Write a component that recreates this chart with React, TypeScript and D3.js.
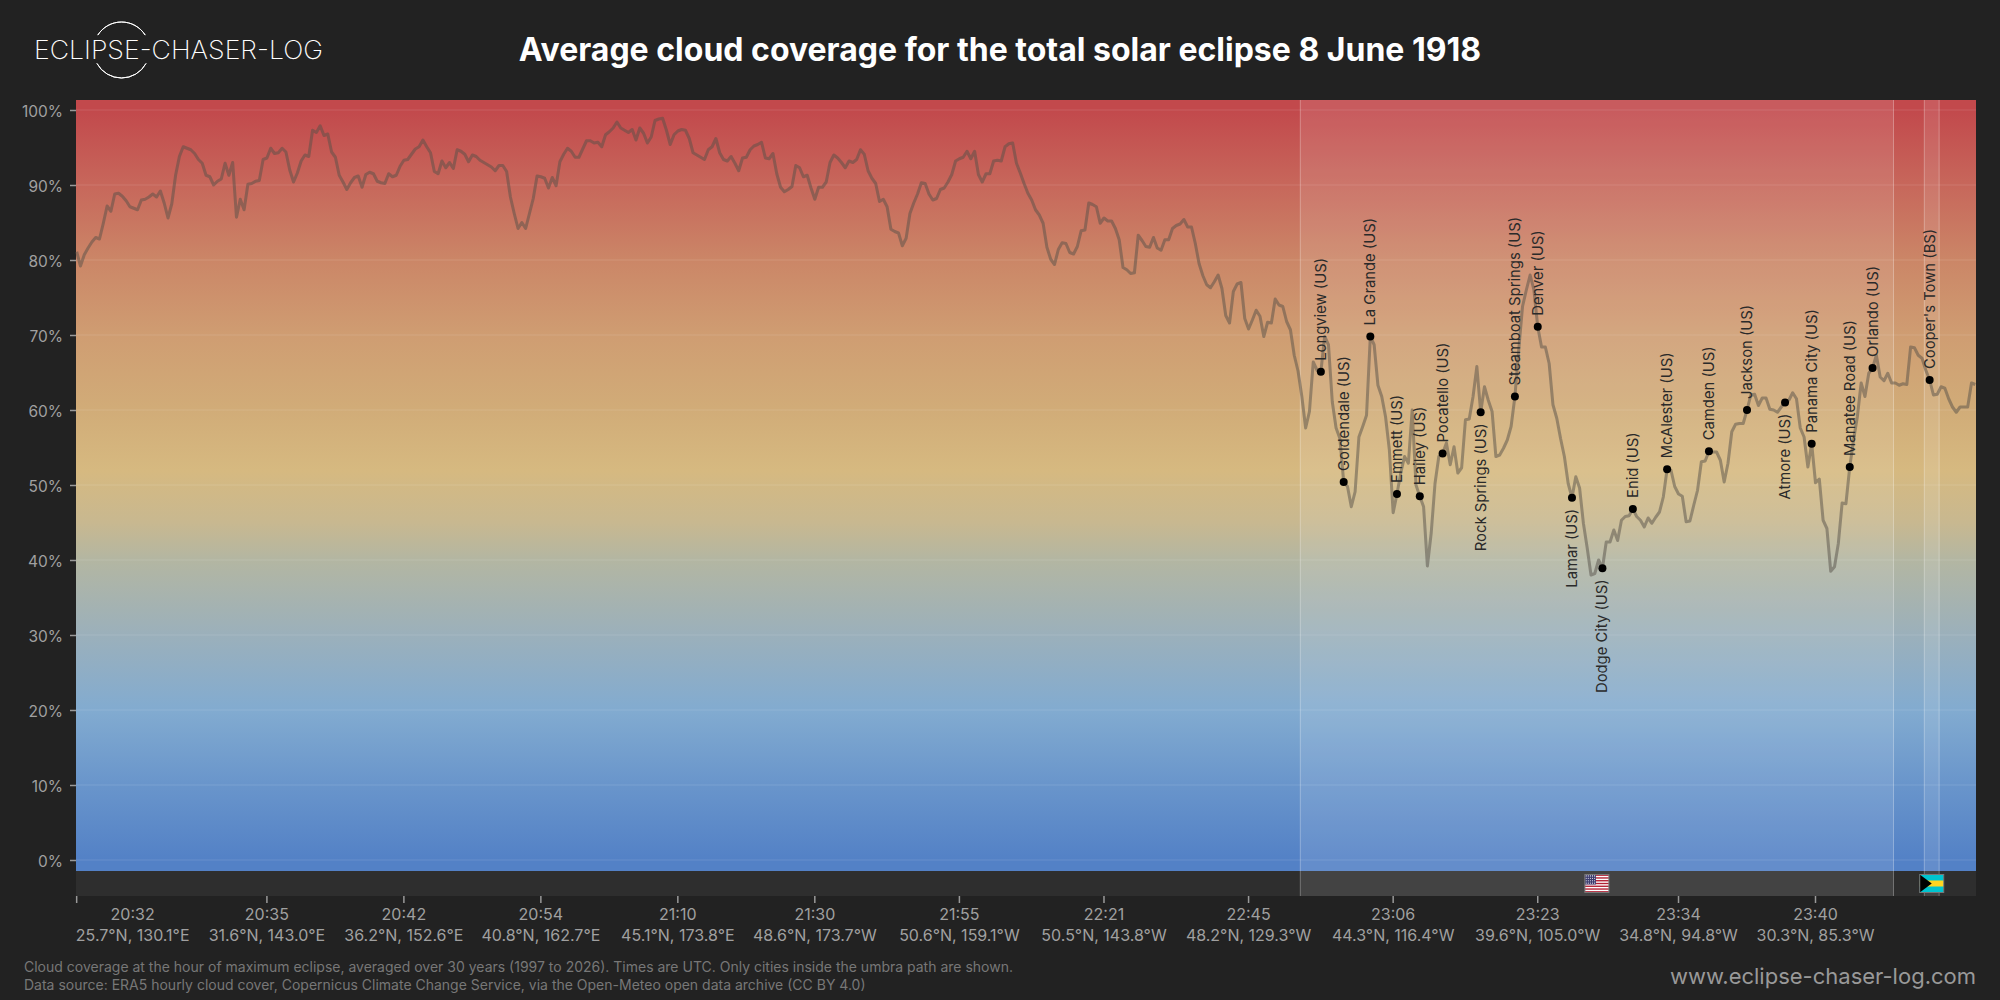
import { useEffect, useRef } from "react";
import * as d3 from "d3";

const cloudCover = [
  81.1, 79.2, 80.7, 81.6, 82.4, 83.0, 82.8, 84.9, 87.2, 86.5, 88.8, 88.9, 88.5, 87.9, 87.1, 86.9, 86.7, 88.0, 88.1, 88.4,
  88.8, 88.4, 89.2, 87.6, 85.6, 87.5, 91.3, 93.8, 95.1, 94.9, 94.7, 94.2, 93.4, 92.9, 91.3, 91.1, 90.0, 90.5, 90.8, 92.9,
  91.3, 93.0, 85.7, 88.1, 86.7, 90.1, 90.2, 90.5, 90.6, 93.4, 93.6, 94.9, 94.2, 94.3, 94.9, 94.4, 92.0, 90.4, 91.6, 93.2,
  94.0, 93.8, 97.3, 97.0, 97.9, 96.6, 96.8, 94.4, 93.7, 91.3, 90.4, 89.4, 90.3, 91.0, 91.2, 89.7, 91.4, 91.7, 91.5, 90.5,
  90.3, 90.2, 91.5, 91.1, 91.3, 92.5, 93.3, 93.4, 94.1, 94.8, 95.1, 96.0, 95.1, 94.3, 91.8, 91.5, 93.2, 92.3, 93.0, 92.2,
  94.7, 94.5, 94.1, 93.1, 94.0, 93.8, 93.3, 93.0, 92.7, 92.4, 91.9, 92.6, 92.6, 91.8, 88.4, 86.2, 84.2, 85.0, 84.2, 86.2,
  88.2, 91.2, 91.1, 90.9, 89.6, 91.0, 89.9, 93.1, 94.1, 94.9, 94.5, 93.7, 93.7, 94.8, 95.9, 95.9, 95.6, 95.7, 95.1, 96.7,
  97.1, 97.6, 98.4, 97.6, 97.3, 97.0, 97.4, 96.0, 97.6, 96.9, 95.6, 96.4, 98.6, 98.8, 98.9, 97.3, 95.4, 96.7, 97.2, 97.4,
  97.3, 96.2, 94.3, 94.0, 93.7, 93.4, 94.7, 95.1, 96.2, 94.3, 93.4, 93.2, 93.8, 92.9, 91.9, 93.6, 93.7, 94.7, 95.2, 95.4,
  95.7, 93.6, 93.5, 94.2, 91.5, 89.7, 89.1, 89.4, 89.8, 92.6, 92.3, 91.1, 91.3, 89.6, 88.1, 89.7, 89.7, 90.4, 93.0, 94.0,
  93.6, 93.0, 92.3, 93.2, 93.0, 93.4, 94.7, 94.1, 91.9, 90.9, 90.2, 87.8, 88.1, 87.1, 84.1, 83.8, 83.6, 81.9, 82.9, 86.2,
  87.6, 88.8, 90.3, 90.2, 88.8, 88.0, 88.2, 89.4, 89.6, 90.4, 91.4, 93.2, 93.5, 93.7, 94.5, 93.5, 94.5, 91.4, 90.4, 91.5,
  91.5, 93.2, 93.3, 93.2, 95.1, 95.5, 95.6, 92.9, 91.6, 90.2, 88.9, 88.0, 86.7, 86.0, 84.9, 81.7, 80.1, 79.4, 81.4, 82.3,
  82.2, 81.0, 80.8, 81.8, 83.9, 84.0, 87.6, 87.4, 87.1, 84.9, 85.6, 85.2, 85.2, 84.2, 82.7, 79.0, 78.7, 78.2, 78.3, 83.3,
  82.6, 81.8, 81.7, 83.0, 81.6, 81.3, 82.7, 82.7, 84.2, 84.6, 84.8, 85.4, 84.4, 84.4, 82.2, 79.5, 77.9, 76.7, 76.3, 77.1,
  78.0, 76.2, 72.6, 71.6, 75.8, 76.8, 77.0, 72.2, 70.8, 72.0, 73.3, 72.5, 69.8, 71.7, 71.6, 74.8, 74.0, 73.8, 71.8, 70.7,
  67.3, 65.2, 61.8, 57.6, 59.8, 66.4, 65.3, 65.1, 69.8, 68.7, 61.1, 57.6, 56.2, 50.4, 49.8, 47.1, 49.1, 56.4, 57.8, 59.3,
  69.8, 68.7, 63.3, 61.8, 59.1, 54.7, 46.3, 48.8, 51.6, 53.8, 52.9, 60.0, 50.0, 48.5, 47.1, 39.2, 43.6, 50.2, 53.8, 54.2,
  55.6, 52.7, 55.1, 51.6, 52.3, 58.7, 58.8, 61.8, 65.8, 59.7, 63.1, 61.3, 59.8, 53.8, 54.0, 54.9, 56.0, 57.8, 61.8, 68.0,
  73.8, 76.0, 78.0, 76.0, 71.1, 68.4, 68.4, 66.2, 60.7, 58.9, 56.2, 53.8, 50.2, 48.3, 51.1, 49.6, 44.9, 41.6, 38.0, 38.2,
  40.0, 38.9, 42.4, 42.4, 44.0, 42.6, 45.3, 45.8, 45.9, 46.8, 45.8, 45.3, 44.4, 45.6, 44.9, 45.7, 46.4, 48.4, 52.1, 52.0,
  49.8, 48.8, 48.5, 45.1, 45.2, 47.3, 49.3, 53.1, 53.2, 54.5, 54.4, 54.4, 53.3, 50.4, 52.9, 57.1, 58.1, 58.2, 58.2, 60.0,
  62.0, 62.1, 60.6, 61.6, 61.6, 60.1, 60.0, 59.7, 60.4, 61.0, 61.3, 62.3, 61.5, 57.6, 56.4, 52.4, 55.5, 50.3, 50.8, 45.3,
  44.2, 38.5, 39.1, 42.2, 47.6, 47.5, 52.4, 56.0, 59.1, 63.6, 61.8, 64.9, 65.6, 67.3, 64.4, 63.9, 64.9, 63.6, 63.6, 63.3,
  63.5, 63.4, 68.4, 68.3, 67.3, 66.9, 65.3, 64.0, 62.0, 62.1, 63.1, 62.9, 61.5, 60.4, 59.7, 60.4, 60.4, 60.4, 63.6, 63.4,
];

const cityNames = [
  "Longview (US)", "Goldendale (US)", "La Grande (US)", "Emmett (US)", "Hailey (US)", "Pocatello (US)", "Rock Springs (US)",
  "Steamboat Springs (US)", "Denver (US)", "Lamar (US)", "Dodge City (US)", "Enid (US)", "McAlester (US)", "Camden (US)",
  "Jackson (US)", "Atmore (US)", "Panama City (US)", "Manatee Road (US)", "Orlando (US)", "Cooper's Town (BS)",
];
const citySteps = [327, 333, 340, 347, 353, 359, 369, 378, 384, 393, 401, 409, 418, 429, 439, 449, 456, 466, 472, 487];
const labelsBelow = ["Rock Springs (US)", "Lamar (US)", "Dodge City (US)", "Atmore (US)"];

const tickSteps = [0, 50, 86, 122, 158, 194, 232, 270, 308, 346, 384, 421, 457];
const tickTimes = ["20:32", "20:35", "20:42", "20:54", "21:10", "21:30", "21:55", "22:21", "22:45", "23:06", "23:23", "23:34", "23:40"];
const tickCoords = [
  "25.7°N, 130.1°E", "31.6°N, 143.0°E", "36.2°N, 152.6°E", "40.8°N, 162.7°E", "45.1°N, 173.8°E", "48.6°N, 173.7°W", "50.6°N, 159.1°W",
  "50.5°N, 143.8°W", "48.2°N, 129.3°W", "44.3°N, 116.4°W", "39.6°N, 105.0°W", "34.8°N, 94.8°W", "30.3°N, 85.3°W",
];
const percentTicks = [0, 10, 20, 30, 40, 50, 60, 70, 80, 90, 100];

// steps where the path crosses each country, used for the light bands and flags
const countryBands = [
  { code: "US", from: 321.6, to: 477.5 },
  { code: "BS", from: 485.6, to: 489.5 },
];

const gradientStops = [
  [100, "#c2494c"], [90, "#c7675b"], [80, "#cb8667"], [70, "#cf9d72"], [60, "#d1ac78"], [52, "#d6b980"], [45, "#c8b890"],
  [40, "#b3b6a2"], [30, "#9bb0bb"], [20, "#82abd0"], [10, "#6995cb"], [0, "#5381c6"],
];

const font = "Inter, sans-serif";
const width = 2000;
const height = 1000;
const left = 76;
const right = 1976;
const top = 100;
const gradBottom = 871;
const stripBottom = 896;

function UsFlag({ x, y }: { x: number; y: number }) {
  const stripes = d3.range(13);
  return (
    <g transform={`translate(${x},${y})`}>
      <rect width={24} height={18} fill="#fff" />
      {stripes.filter((s) => s % 2 === 0).map((s) => (
        <rect key={s} y={(s * 18) / 13} width={24} height={18 / 13} fill="#b22234" />
      ))}
      <rect width={11} height={10} fill="#3c3b6e" />
      {d3.range(4).map((r) =>
        d3.range(5).map((c) => <circle key={`${r}-${c}`} cx={1.3 + c * 2.1} cy={1.4 + r * 2.4} r={0.55} fill="#fff" />)
      )}
      <rect width={24} height={18} fill="none" stroke="#777" strokeWidth={1} />
    </g>
  );
}

function BsFlag({ x, y }: { x: number; y: number }) {
  return (
    <g transform={`translate(${x},${y})`}>
      <rect width={24} height={18} fill="#00c4cf" />
      <rect y={6} width={24} height={6} fill="#ffd520" />
      <path d="M0,0L12,9L0,18Z" fill="#000" />
      <rect width={24} height={18} fill="none" stroke="#777" strokeWidth={1} />
    </g>
  );
}

export default function App() {
  const gy = useRef<SVGGElement>(null);

  const x = d3.scaleLinear([0, cloudCover.length - 1], [76.67, 1975.3]);
  const y = d3.scaleLinear([0, 100], [860, 110]);
  const line = d3.line<number>((_, i) => x(i), (d) => y(d));
  const arc = d3.arc();

  useEffect(() => {
    const g = d3.select(gy.current);
    g.call(d3.axisLeft(y).tickValues(percentTicks).tickSize(6).tickPadding(7).tickFormat((d) => `${d}%`));
    g.select(".domain").remove();
    g.selectAll(".tick line").attr("stroke", "#999").attr("stroke-width", 1.5);
    g.selectAll(".tick text").attr("fill", "#a0a0a0").attr("font-family", font).attr("font-size", 15.5).attr("dy", "0.4em");
  }, []);

  return (
    <svg width={width} height={height} style={{ position: "absolute", left: 0, top: 0, background: "#222222" }}>
      <defs>
        <linearGradient id="cloudFill" gradientUnits="userSpaceOnUse" x1={0} x2={0} y1={y(100)} y2={y(0)}>
          {gradientStops.map(([v, c]) => (
            <stop key={v} offset={`${100 - (v as number)}%`} stopColor={c as string} />
          ))}
        </linearGradient>
      </defs>

      <g fill="none" stroke="#fff" strokeWidth={1} transform="translate(121.5,50)">
        <path d={arc({ innerRadius: 28, outerRadius: 28, startAngle: -1.01, endAngle: 1.01 }) as string} />
        <path d={arc({ innerRadius: 28, outerRadius: 28, startAngle: Math.PI - 1.07, endAngle: Math.PI + 1.07 }) as string} />
      </g>
      <text x={34} y={59} fontFamily={font} fontWeight={200} fontSize={26} fill="#fff" textLength={289} lengthAdjust="spacingAndGlyphs">
        ECLIPSE-CHASER-LOG
      </text>
      <text x={1000} y={61} textAnchor="middle" fontFamily={font} fontWeight={700} fontSize={32} fill="#fff">
        Average cloud coverage for the total solar eclipse 8 June 1918
      </text>

      <rect x={left} y={top} width={right - left} height={gradBottom - top} fill="url(#cloudFill)" />
      <rect x={left} y={gradBottom} width={right - left} height={stripBottom - gradBottom} fill="#2e2e2e" />

      {percentTicks.map((p) => (
        <line key={p} x1={left} x2={right} y1={y(p)} y2={y(p)} stroke="#fff" strokeOpacity={0.12} />
      ))}

      {countryBands.map((b) => (
        <g key={b.code}>
          <rect x={x(b.from)} y={top} width={x(b.to) - x(b.from)} height={stripBottom - top} fill="#fff" fillOpacity={0.1} />
          <line x1={x(b.from)} x2={x(b.from)} y1={top} y2={stripBottom} stroke="#fff" strokeOpacity={0.3} />
          <line x1={x(b.to)} x2={x(b.to)} y1={top} y2={stripBottom} stroke="#fff" strokeOpacity={0.3} />
        </g>
      ))}
      <UsFlag x={(x(countryBands[0].from) + x(countryBands[0].to)) / 2 - 12} y={874.5} />
      <BsFlag x={(x(countryBands[1].from) + x(countryBands[1].to)) / 2 - 12} y={874.5} />

      <path d={line(cloudCover) as string} fill="none" stroke="#555048" strokeOpacity={0.5} strokeWidth={3} strokeLinejoin="round" />

      {cityNames.map((name, i) => {
        const cx = x(citySteps[i]);
        const cy = y(cloudCover[citySteps[i]]);
        const below = labelsBelow.includes(name);
        return (
          <g key={name}>
            <circle cx={cx} cy={cy} r={4} fill="#000" />
            <text
              transform={`translate(${cx + 1},${cy + (below ? 11 : -11)}) rotate(-90)`}
              textAnchor={below ? "end" : "start"}
              dominantBaseline="middle"
              fontFamily={font}
              fontSize={14.8}
              fill="#2a2a2a"
            >
              {name}
            </text>
          </g>
        );
      })}

      <g ref={gy} transform={`translate(${left},0)`} />

      {tickSteps.map((s, i) => {
        const tx = x(s);
        const labelX = i === 0 ? tx + 56 : tx;
        return (
          <g key={s}>
            <line x1={tx} x2={tx} y1={stripBottom} y2={stripBottom + 7} stroke="#999" strokeWidth={1.5} />
            <text x={labelX} y={919.5} textAnchor="middle" fontFamily={font} fontSize={16} fill="#a0a0a0">
              {tickTimes[i]}
            </text>
            <text x={labelX} y={941} textAnchor="middle" fontFamily={font} fontSize={16} fill="#a0a0a0">
              {tickCoords[i]}
            </text>
          </g>
        );
      })}

      <text x={24} y={972} fontFamily={font} fontSize={14} fill="#777">
        Cloud coverage at the hour of maximum eclipse, averaged over 30 years (1997 to 2026). Times are UTC. Only cities inside the umbra path are shown.
      </text>
      <text x={24} y={990} fontFamily={font} fontSize={14} fill="#777">
        Data source: ERA5 hourly cloud cover, Copernicus Climate Change Service, via the Open-Meteo open data archive (CC BY 4.0)
      </text>
      <text x={1976} y={984} textAnchor="end" fontFamily={font} fontSize={22} fill="#999">
        www.eclipse-chaser-log.com
      </text>
    </svg>
  );
}
